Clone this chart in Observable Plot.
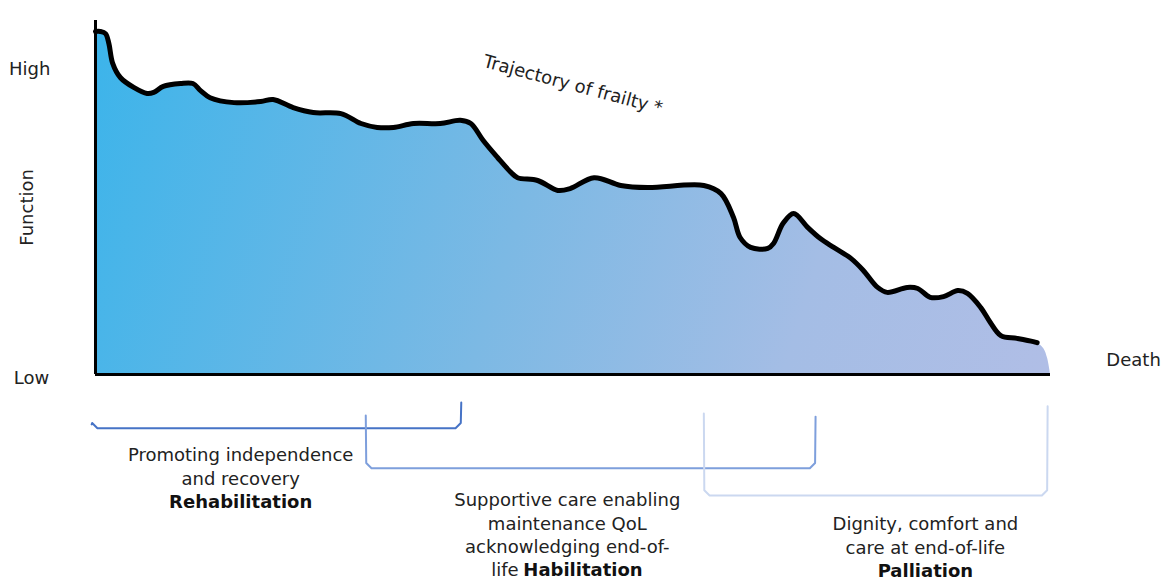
<!DOCTYPE html>
<html>
<head>
<meta charset="utf-8">
<script src="https://cdn.jsdelivr.net/npm/d3@7"></script>
<script src="https://cdn.jsdelivr.net/npm/@observablehq/plot@0.6"></script>
<style>
  html, body { margin: 0; padding: 0; background: #fff; }
  svg { display: block; }
</style>
</head>
<body>
<div id="chart"></div>
<script>
// Time to death (0 = start, 100 = death) and function level (0 = low, 100 = high)
const time = [0, 0.5, 1.05, 1.4, 1.8, 2.6, 4.0, 5.4, 6.1, 7.1, 8.9, 10.2, 11.0, 12.0, 14.5, 17.3, 18.6, 20.7, 22.8, 25.7, 27.8, 29.5, 31.2, 33.3, 36.1, 38.2, 39.3, 40.6, 42.1, 43.5, 44.2, 46.3, 48.4, 49.7, 52.2, 55.0, 57.8, 63.7, 65.5, 66.8, 67.5, 68.6, 70.4, 71.0, 72.0, 73.1, 74.6, 75.9, 77.3, 79.1, 80.4, 81.9, 82.9, 85.0, 86.1, 87.4, 88.8, 90.3, 91.3, 92.7, 93.7, 94.8, 96.5, 98.2, 98.6];
const functionLevel = [96.9, 96.9, 96.3, 93.5, 87.9, 83.9, 81.1, 79.4, 79.7, 81.4, 82.2, 82.2, 80.2, 78.2, 76.8, 77.1, 77.7, 75.4, 74.0, 73.7, 70.9, 69.8, 69.8, 70.9, 70.9, 71.8, 70.9, 66.1, 61.3, 57.1, 55.6, 54.8, 52.0, 52.5, 55.6, 53.4, 52.8, 53.4, 51.1, 44.4, 38.7, 35.9, 35.6, 37.0, 42.7, 45.5, 41.5, 38.4, 35.9, 32.8, 29.4, 24.6, 23.2, 24.6, 24.3, 21.8, 22.0, 23.7, 22.9, 18.9, 14.7, 11.0, 10.2, 9.3, 9.0];
// fill tail after the line ends, falling to death
const tailTime = [99.3, 99.7, 100];
const tailLevel = [7.3, 4.5, 0];

const axisLabels = ["High", "Low", "Function", "Death"];
const annotation = "Trajectory of frailty *";

// care phases: start / end in time units
const phaseNames = ["Rehabilitation", "Habilitation", "Palliation"];
const phaseStart = [-0.4, 28.3, 63.7];
const phaseEnd = [38.3, 75.4, 99.7];
const phaseColors = ["#4673c6", "#7e9fdc", "#cbd8f0"];
const phaseLines = [
  ["Promoting independence", "and recovery"],
  ["Supportive care enabling", "maintenance QoL", "acknowledging end-of-"],
  ["Dignity, comfort and", "care at end-of-life"]
];

// ---- build tables ----
const curve = time.map((t, i) => ({t, f: functionLevel[i]}));
const area = curve.concat(tailTime.map((t, i) => ({t, f: tailLevel[i]})));

// bracket geometry (annotation layout, in chart units)
const bracketLevel = [-15.2, -26.5, -34.2];
const bracketLeftTop = [-14.1, -11.6, -11.0];
const bracketRightTop = [-7.9, -11.9, -9.0];
const brackets = [];
phaseNames.forEach((name, i) => {
  const a = phaseStart[i], b = phaseEnd[i], y = bracketLevel[i];
  const pts = [
    [a, bracketLeftTop[i]], [a + 0.05, y + 1.5], [a + 0.6, y],
    [b - 0.6, y], [b - 0.05, y + 1.5], [b, bracketRightTop[i]]
  ];
  pts.forEach(([t, f]) => brackets.push({name, t, f, color: phaseColors[i]}));
});

const textCenters = [15.2, 49.4, 86.9];
const textTop = [-22.9, -35.6, -42.4];
const lineStep = 6.6;
const phaseTexts = [];
const boldTexts = [];
phaseLines.forEach((lines, i) => {
  lines.forEach((s, j) => phaseTexts.push({t: textCenters[i], f: textTop[i] - j * lineStep, s}));
});
boldTexts.push({t: textCenters[0], f: textTop[0] - 2 * lineStep, s: phaseNames[0], anchor: "middle"});
boldTexts.push({t: textCenters[2], f: textTop[2] - 2 * lineStep, s: phaseNames[2], anchor: "middle"});
// "life Habilitation" line (mixed weight)
const lifeLine = {t: 44.3, f: textTop[1] - 3 * lineStep, s: "life"};
boldTexts.push({t: 44.8, f: textTop[1] - 3 * lineStep, s: phaseNames[1], anchor: "start"});

const font = "DejaVu Sans, Verdana, sans-serif";
const fs = 18;

const svg = Plot.plot({
  width: 1173,
  height: 581,
  marginLeft: 95,
  marginRight: 123,
  marginTop: 20,
  marginBottom: 207,
  x: {domain: [0, 100], axis: null},
  y: {domain: [0, 100], axis: null},
  style: {fontFamily: font, background: "white", overflow: "visible"},
  marks: [
    Plot.areaY(area, {x: "t", y: "f", fill: "url(#frailtyGradient)", curve: "catmull-rom"}),
    Plot.line(curve, {x: "t", y: "f", stroke: "black", strokeWidth: 5, curve: "catmull-rom", strokeLinecap: "round", strokeLinejoin: "round"}),
    Plot.ruleX([0], {y1: 0, y2: 100, stroke: "black", strokeWidth: 3}),
    Plot.ruleY([0], {x1: 0, x2: 100, stroke: "black", strokeWidth: 3}),
    Plot.text([axisLabels[0]], {x: -6.9, y: 86.2, text: d => d, fontSize: fs, fill: "#222"}),
    Plot.text([axisLabels[1]], {x: -6.7, y: -1.1, text: d => d, fontSize: fs, fill: "#222"}),
    Plot.text([axisLabels[2]], {x: -7.1, y: 47.2, text: d => d, fontSize: fs, fill: "#222", rotate: -90}),
    Plot.text([axisLabels[3]], {x: 108.7, y: 4.0, text: d => d, fontSize: fs, fill: "#222"}),
    Plot.text([annotation], {x: 50.0, y: 81.8, text: d => d, fontSize: fs, fill: "#222", rotate: 15}),
    Plot.line(brackets, {x: "t", y: "f", z: "name", stroke: "color", strokeWidth: 2, curve: "linear", strokeLinejoin: "round"}),
    Plot.text(phaseTexts, {x: "t", y: "f", text: "s", fontSize: fs, fill: "#222"}),
    Plot.text([lifeLine], {x: "t", y: "f", text: "s", fontSize: fs, fill: "#222", textAnchor: "end"}),
    Plot.text(boldTexts.filter(d => d.anchor === "middle"), {x: "t", y: "f", text: "s", fontSize: fs, fontWeight: "bold", fill: "#111"}),
    Plot.text(boldTexts.filter(d => d.anchor === "start"), {x: "t", y: "f", text: "s", fontSize: fs, fontWeight: "bold", fill: "#111", textAnchor: "start"})
  ]
});

const defs = d3.select(svg).insert("defs", ":first-child");
const grad = defs.append("linearGradient")
  .attr("id", "frailtyGradient")
  .attr("gradientUnits", "userSpaceOnUse")
  .attr("x1", 95).attr("y1", 60).attr("x2", 1050).attr("y2", 360);
grad.append("stop").attr("offset", 0).attr("stop-color", "#3db4ea");
grad.append("stop").attr("offset", 0.45).attr("stop-color", "#7cb9e4");
grad.append("stop").attr("offset", 0.75).attr("stop-color", "#a4bde5");
grad.append("stop").attr("offset", 1).attr("stop-color", "#b0bee6");

document.getElementById("chart").appendChild(svg);
</script>
</body>
</html>
